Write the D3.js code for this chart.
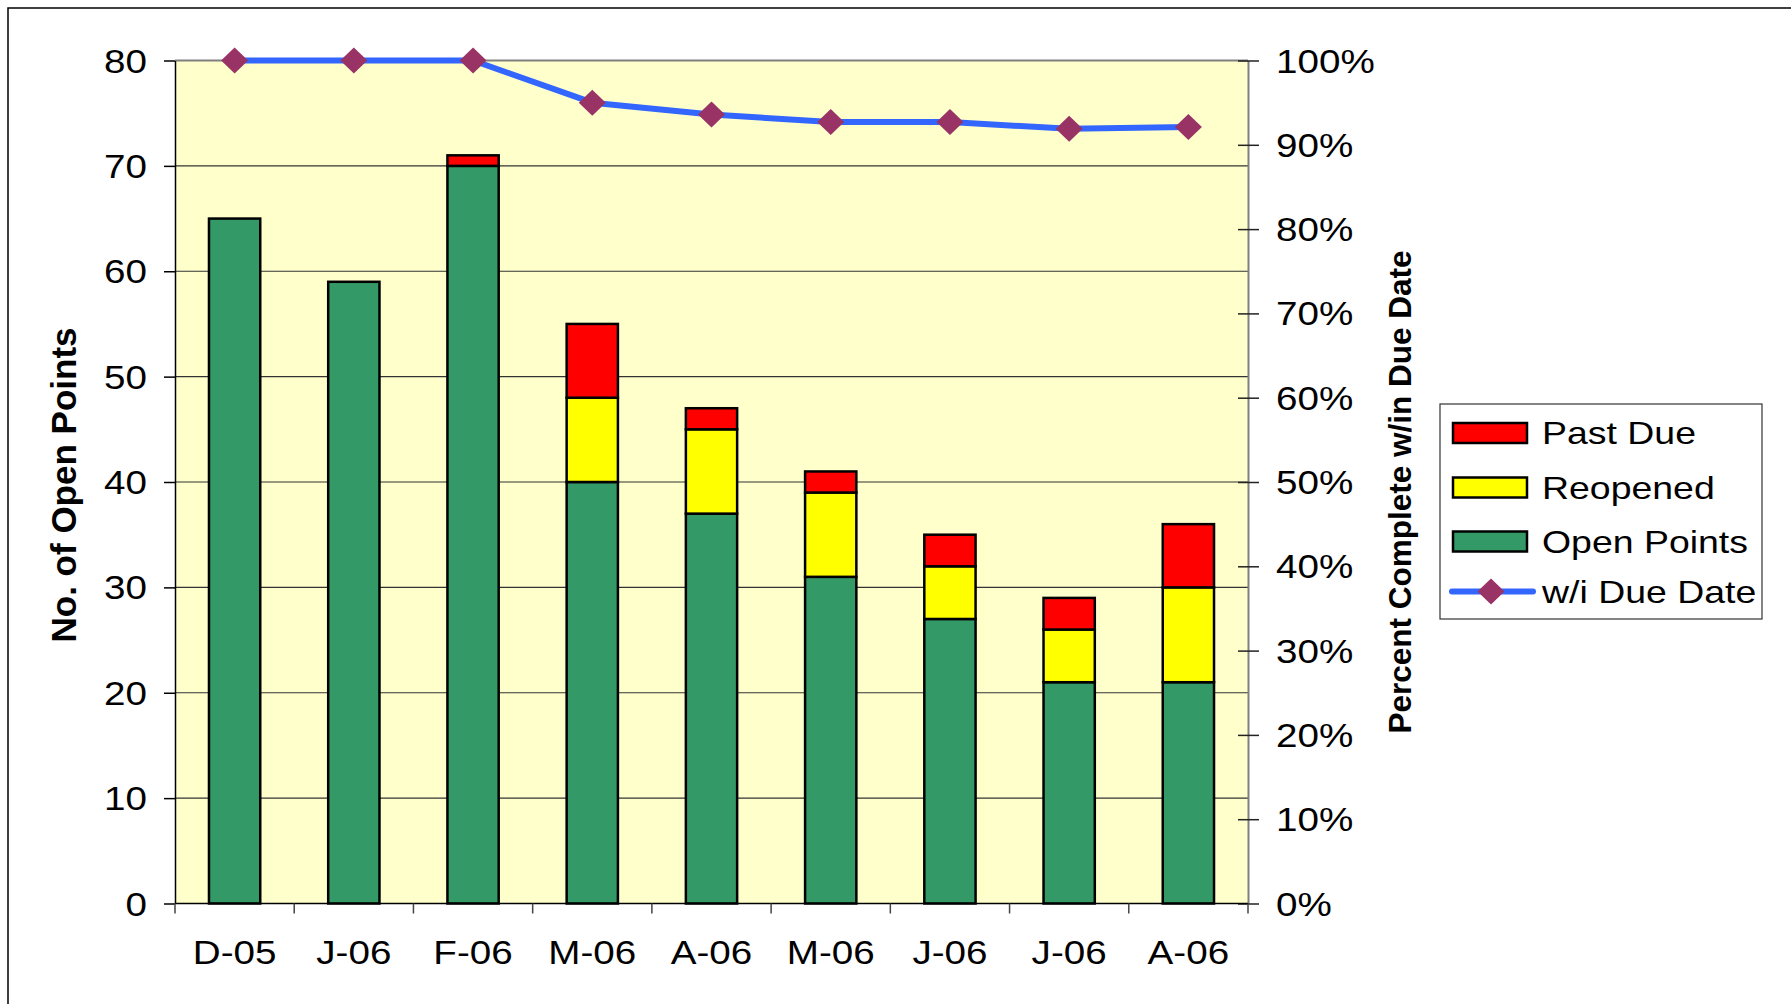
<!DOCTYPE html>
<html>
<head>
<meta charset="utf-8">
<script src="https://cdn.jsdelivr.net/npm/d3@7"></script>
<style>
  body { margin: 0; background: #fff; }
  svg { display: block; font-family: Arial, "Liberation Sans", sans-serif; }
</style>
</head>
<body>
<svg id="chart" width="1791" height="1004"></svg>
<script>
// data
const categories = ['D-05', 'J-06', 'F-06', 'M-06', 'A-06', 'M-06', 'J-06', 'J-06', 'A-06'];
const openPoints = [65, 59, 70, 40, 37, 31, 27, 21, 21];
const reopened = [0, 0, 0, 8, 8, 8, 5, 5, 9];
const pastDue = [0, 0, 1, 7, 2, 2, 3, 3, 6];
const withinDue = [1, 1, 1, 0.95, 0.936, 0.927, 0.927, 0.919, 0.921];
const countTicks = [0, 10, 20, 30, 40, 50, 60, 70, 80];
const pctTicks = [0, 0.1, 0.2, 0.3, 0.4, 0.5, 0.6, 0.7, 0.8, 0.9, 1];
const legendItems = ['Past Due', 'Reopened', 'Open Points', 'w/i Due Date'];

const colors = { open: '#339966', reopened: '#ffff00', pastDue: '#ff0000', line: '#3366ff', marker: '#993366' };
const sx = 1.17; // text in the source is a bit stretched sideways

const svg = d3.select('svg#chart');
const plot = { left: 175, right: 1248, top: 60.5, bottom: 903.5 };

const x = d3.scaleBand().domain(d3.range(categories.length)).range([plot.left, plot.right]).padding(0);
const y = d3.scaleLinear().domain([0, 80]).range([plot.bottom, plot.top]);
const yPct = d3.scaleLinear().domain([0, 1]).range([plot.bottom, plot.top]);
const barW = x.bandwidth() * 0.43;

// outer frame
svg.append('rect')
  .attr('x', 8).attr('y', 8).attr('width', 1900).attr('height', 1100)
  .attr('fill', 'none').attr('stroke', '#000').attr('stroke-width', 1.5);

// plot background
svg.append('rect')
  .attr('x', plot.left).attr('y', plot.top)
  .attr('width', plot.right - plot.left).attr('height', plot.bottom - plot.top)
  .attr('fill', '#ffffcc');

// gridlines
svg.append('g')
  .selectAll('line')
  .data(countTicks.filter(d => d > 0 && d < 80))
  .join('line')
  .attr('x1', plot.left).attr('x2', plot.right)
  .attr('y1', d => y(d)).attr('y2', d => y(d))
  .attr('stroke', '#333').attr('stroke-width', 1.2);

// top border of plot
svg.append('line')
  .attr('x1', plot.left).attr('x2', plot.right)
  .attr('y1', plot.top).attr('y2', plot.top)
  .attr('stroke', '#808080').attr('stroke-width', 2);

// stacked bars
const rows = categories.map((c, i) => ({ i, open: openPoints[i], reopened: reopened[i], pastDue: pastDue[i] }));
const stack = d3.stack().keys(['open', 'reopened', 'pastDue'])(rows);
stack.forEach(layer => {
  svg.append('g')
    .selectAll('rect')
    .data(layer.filter(d => d[1] - d[0] > 0))
    .join('rect')
    .attr('x', d => x(d.data.i) + (x.bandwidth() - barW) / 2)
    .attr('width', barW)
    .attr('y', d => y(d[1]))
    .attr('height', d => y(d[0]) - y(d[1]))
    .attr('fill', colors[layer.key])
    .attr('stroke', '#000').attr('stroke-width', 2.5);
});

// left axis
const yAxis = svg.append('g')
  .attr('transform', `translate(${plot.left},0)`)
  .call(d3.axisLeft(y).tickValues(countTicks).tickSize(11).tickSizeOuter(0));
yAxis.select('.domain').attr('stroke', '#000').attr('stroke-width', 1.5);
yAxis.selectAll('.tick line').attr('stroke', '#000').attr('stroke-width', 1.5);
yAxis.selectAll('.tick text')
  .attr('x', 0).attr('dy', '0.35em')
  .attr('transform', `translate(-28,0) scale(${sx},1)`)
  .attr('font-size', 33).attr('fill', '#000');

// right axis
const yAxisR = svg.append('g')
  .attr('transform', `translate(${plot.right},0)`)
  .call(d3.axisRight(yPct).tickValues(pctTicks).tickFormat(d3.format('.0%')).tickSize(11).tickSizeOuter(0));
yAxisR.select('.domain').attr('stroke', '#808080').attr('stroke-width', 2);
yAxisR.selectAll('.tick line').attr('x1', -10).attr('stroke', '#222').attr('stroke-width', 1.5);
yAxisR.selectAll('.tick text')
  .attr('x', 0).attr('dy', '0.35em')
  .attr('transform', `translate(28,0) scale(${sx},1)`)
  .attr('font-size', 33).attr('fill', '#000');

// bottom axis: line, boundary ticks, labels
svg.append('line')
  .attr('x1', plot.left).attr('x2', plot.right)
  .attr('y1', plot.bottom).attr('y2', plot.bottom)
  .attr('stroke', '#000').attr('stroke-width', 1.5);
const bounds = d3.range(categories.length).map(i => x(i)).concat([plot.right]);
svg.append('g')
  .selectAll('line')
  .data(bounds)
  .join('line')
  .attr('x1', d => d).attr('x2', d => d)
  .attr('y1', plot.bottom).attr('y2', plot.bottom + 10)
  .attr('stroke', '#444').attr('stroke-width', 1.5);
svg.append('g')
  .selectAll('text')
  .data(categories)
  .join('text')
  .attr('transform', (d, i) => `translate(${x(i) + x.bandwidth() / 2},964) scale(${sx},1)`)
  .attr('text-anchor', 'middle')
  .attr('font-size', 33)
  .text(d => d);

// line series
const lineGen = d3.line()
  .x((d, i) => x(i) + x.bandwidth() / 2)
  .y(d => yPct(d));
svg.append('path')
  .datum(withinDue)
  .attr('d', lineGen)
  .attr('fill', 'none')
  .attr('stroke', colors.line).attr('stroke-width', 6)
  .attr('stroke-linejoin', 'round');

const diamond = (cx, cy) => `M${cx},${cy - 13}L${cx + 13.5},${cy}L${cx},${cy + 13}L${cx - 13.5},${cy}Z`;
svg.append('g')
  .selectAll('path')
  .data(withinDue)
  .join('path')
  .attr('d', (d, i) => diamond(x(i) + x.bandwidth() / 2, yPct(d)))
  .attr('fill', colors.marker);

// axis titles
svg.append('text')
  .attr('transform', 'translate(76,485) rotate(-90)')
  .attr('text-anchor', 'middle')
  .attr('font-size', 35).attr('font-weight', 'bold')
  .text('No. of Open Points');
svg.append('text')
  .attr('transform', 'translate(1411,492) rotate(-90)')
  .attr('text-anchor', 'middle')
  .attr('font-size', 31.5).attr('font-weight', 'bold')
  .text('Percent Complete w/in Due Date');

// legend
const legend = svg.append('g');
legend.append('rect')
  .attr('x', 1440).attr('y', 404).attr('width', 322).attr('height', 215)
  .attr('fill', '#fff').attr('stroke', '#333').attr('stroke-width', 1.2);
const rowY = [433, 487.5, 541.5, 591.5];
const swatchColors = [colors.pastDue, colors.reopened, colors.open];
swatchColors.forEach((c, i) => {
  legend.append('rect')
    .attr('x', 1453).attr('y', rowY[i] - 10).attr('width', 74).attr('height', 20)
    .attr('fill', c).attr('stroke', '#000').attr('stroke-width', 2.5);
});
legend.append('line')
  .attr('x1', 1452).attr('x2', 1533).attr('y1', rowY[3]).attr('y2', rowY[3])
  .attr('stroke', colors.line).attr('stroke-width', 6).attr('stroke-linecap', 'round');
legend.append('path')
  .attr('d', diamond(1491, rowY[3]))
  .attr('fill', colors.marker);
legend.selectAll('text.item')
  .data(legendItems)
  .join('text')
  .attr('class', 'item')
  .attr('transform', (d, i) => `translate(1542,${rowY[i] + 11}) scale(${sx},1)`)
  .attr('font-size', 32)
  .text(d => d);
</script>
</body>
</html>
